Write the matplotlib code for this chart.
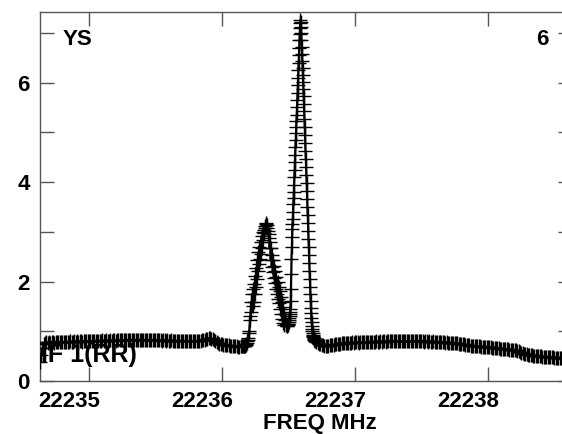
import numpy as np
import matplotlib
matplotlib.use("Agg")
import matplotlib.pyplot as plt
from matplotlib.ticker import MultipleLocator, FixedLocator
from matplotlib.transforms import ScaledTranslation

plt.rcParams['font.family'] = ['Liberation Sans', 'DejaVu Sans']

# ---- data ----
# baseline before the lines: start 22234.63 MHz, 0.01 MHz channels
seg_a_start, seg_a_step = 22234.63, 0.01
seg_a = [0.38, 0.52, 0.66, 0.75, 0.77, 0.78, 0.77, 0.78, 0.77, 0.78,
         0.78, 0.77, 0.79, 0.78, 0.78, 0.79, 0.78, 0.79, 0.78, 0.79,
         0.79, 0.78, 0.79, 0.80, 0.79, 0.79, 0.80, 0.79, 0.80, 0.79,
         0.80, 0.80, 0.79, 0.80, 0.80, 0.81, 0.80, 0.80, 0.81, 0.80,
         0.81, 0.80, 0.81, 0.81, 0.80, 0.81, 0.81, 0.82, 0.81, 0.81,
         0.82, 0.81, 0.81, 0.82, 0.81, 0.82, 0.82, 0.81, 0.82, 0.82,
         0.82, 0.83, 0.82, 0.82, 0.83, 0.82, 0.83, 0.82, 0.83, 0.83,
         0.82, 0.83, 0.83, 0.82, 0.83, 0.83, 0.82, 0.83, 0.82, 0.83,
         0.83, 0.82, 0.83, 0.82, 0.82, 0.83, 0.82, 0.82, 0.83, 0.82,
         0.82, 0.82, 0.81, 0.82, 0.82, 0.81, 0.82, 0.81, 0.81, 0.82,
         0.81, 0.81, 0.80, 0.81, 0.81, 0.80, 0.81, 0.80, 0.80, 0.81,
         0.80, 0.80, 0.80, 0.81, 0.80, 0.80, 0.80, 0.81, 0.80, 0.81,
         0.81, 0.81, 0.82, 0.82, 0.83, 0.84, 0.85, 0.86, 0.86, 0.85,
         0.84, 0.82, 0.80, 0.78, 0.76, 0.75, 0.74, 0.74, 0.73, 0.73,
         0.72, 0.72, 0.72, 0.71, 0.71, 0.70, 0.70, 0.70, 0.70, 0.69,
         0.69, 0.70]

# weaker line: start 22236.150 MHz, 0.004 MHz channels (noisy flanks)
seg_b_start, seg_b_step = 22236.150, 0.004
seg_b = [0.70, 0.70, 0.70, 0.70, 0.71, 0.71, 0.72, 0.73, 0.75, 0.77,
         0.80, 0.83, 0.86, 1.00, 0.97, 1.30, 1.23, 1.59, 1.38, 1.75,
         1.50, 1.84, 1.59, 1.96, 1.74, 2.12, 1.90, 2.28, 2.06, 2.44,
         2.22, 2.59, 2.35, 2.70, 2.45, 2.79, 2.55, 2.92, 2.68, 3.00,
         2.83, 3.03, 2.98, 3.07, 3.12, 3.16, 3.17, 3.14, 3.08, 3.02,
         2.96, 2.88, 2.68, 2.79, 2.44, 2.67, 2.30, 2.54, 2.19, 2.43,
         2.08, 2.32, 1.97, 2.21, 1.85, 2.10, 1.74, 1.99, 1.64, 1.90,
         1.56, 1.81, 1.45, 1.69, 1.34, 1.59, 1.24, 1.49, 1.16, 1.35,
         1.13, 1.23, 1.14, 1.12, 1.10, 1.10, 1.12, 1.14]

# strong narrow line: start 22236.500 MHz, 0.002 MHz channels
seg_c_start, seg_c_step = 22236.500, 0.002
seg_c = [1.15, 1.18, 1.22, 1.26, 1.30, 1.34, 1.38, 1.45, 1.60, 1.85,
         2.15, 2.45, 2.70, 2.90, 3.05, 3.15, 3.25, 3.40, 3.55, 3.68,
         3.80, 3.95, 4.10, 4.25, 4.40, 4.55, 4.70, 4.85, 4.98, 5.10,
         5.22, 5.35, 5.50, 5.65, 5.80, 5.95, 6.10, 6.25, 6.40, 6.55,
         6.70, 6.85, 6.98, 7.10, 7.20, 7.26, 7.22, 7.12, 7.00, 6.86,
         6.72, 6.58, 6.44, 6.30, 6.16, 6.02, 5.88, 5.74, 5.58, 5.42,
         5.26, 5.10, 4.94, 4.78, 4.62, 4.46, 4.30, 4.14, 3.98, 3.82,
         3.66, 3.50, 3.34, 3.18, 3.02, 2.86, 2.70, 2.54, 2.38, 2.22,
         2.06, 1.90, 1.75, 1.60, 1.47, 1.36, 1.26, 1.18, 1.11, 1.05,
         1.00, 0.96, 0.93, 0.90, 0.88, 0.86, 0.84, 0.83, 0.82, 0.81,
         0.80]

# baseline after the lines: start 22236.71 MHz, 0.01 MHz channels
seg_d_start, seg_d_step = 22236.71, 0.01
seg_d = [0.79, 0.77, 0.75, 0.74, 0.73, 0.72, 0.71, 0.70, 0.70, 0.71,
         0.72, 0.72, 0.73, 0.73, 0.74, 0.74, 0.75, 0.75, 0.75, 0.76,
         0.76, 0.76, 0.77, 0.76, 0.77, 0.77, 0.77, 0.78, 0.77, 0.78,
         0.78, 0.78, 0.77, 0.78, 0.78, 0.79, 0.78, 0.78, 0.79, 0.78,
         0.79, 0.79, 0.78, 0.79, 0.79, 0.80, 0.79, 0.79, 0.80, 0.79,
         0.80, 0.80, 0.79, 0.80, 0.80, 0.81, 0.80, 0.80, 0.81, 0.80,
         0.81, 0.80, 0.80, 0.81, 0.80, 0.80, 0.81, 0.80, 0.80, 0.81,
         0.80, 0.80, 0.81, 0.80, 0.80, 0.80, 0.81, 0.80, 0.80, 0.80,
         0.80, 0.79, 0.80, 0.80, 0.79, 0.80, 0.79, 0.79, 0.80, 0.79,
         0.79, 0.79, 0.78, 0.79, 0.78, 0.78, 0.78, 0.77, 0.78, 0.77,
         0.77, 0.77, 0.77, 0.77, 0.76, 0.76, 0.76, 0.75, 0.75, 0.75,
         0.74, 0.74, 0.73, 0.73, 0.72, 0.72, 0.71, 0.71, 0.71, 0.70,
         0.70, 0.70, 0.70, 0.70, 0.69, 0.69, 0.69, 0.68, 0.68, 0.68,
         0.68, 0.68, 0.67, 0.67, 0.67, 0.66, 0.66, 0.66, 0.65, 0.65,
         0.65, 0.65, 0.64, 0.64, 0.64, 0.63, 0.63, 0.63, 0.62, 0.62,
         0.62, 0.61, 0.60, 0.58, 0.57, 0.56, 0.55, 0.54, 0.54, 0.53,
         0.53, 0.52, 0.52, 0.51, 0.51, 0.51, 0.50, 0.50, 0.50, 0.50,
         0.49, 0.49, 0.49, 0.49, 0.48, 0.48, 0.48, 0.48, 0.48, 0.47,
         0.47, 0.47, 0.47, 0.47, 0.47, 0.46, 0.46, 0.46, 0.46, 0.46]

x_ticks = [22235, 22236, 22237, 22238]
x_tick_labels = ["22235", "22236", "22237", "22238"]
y_ticks = [0, 2, 4, 6]
y_tick_labels = ["0", "2", "4", "6"]
source_label = "YS"
panel_label = "6"
if_label = "IF 1(RR)"
x_label = "FREQ MHz"

# channel frequencies of each segment
def channels(start, step, vals):
    return start + step * np.arange(len(vals))

freq = np.concatenate([channels(seg_a_start, seg_a_step, seg_a),
                       channels(seg_b_start, seg_b_step, seg_b),
                       channels(seg_c_start, seg_c_step, seg_c),
                       channels(seg_d_start, seg_d_step, seg_d)])
amp = np.concatenate([seg_a, seg_b, seg_c, seg_d])

# ---- figure ----
W, H = 562, 434
fig = plt.figure(figsize=(W / 100, H / 100), dpi=100)
ax_left, ax_right, ax_top, ax_bottom = 39.5, 572, 12, 381
ax = fig.add_axes([ax_left / W, 1 - ax_bottom / H,
                   (ax_right - ax_left) / W, (ax_bottom - ax_top) / H])

ax.plot(freq, amp, color='black', lw=1.5, marker='+', markersize=9.5,
        markeredgewidth=1.0, zorder=3)

ax.set_xlim(22234.628, 22238.632)
ax.set_ylim(0, 7.42)

spine_col = '#555555'
for s in ax.spines.values():
    s.set_color(spine_col)
    s.set_linewidth(1.0)

ax.xaxis.set_major_locator(FixedLocator(x_ticks))
ax.set_xticklabels(x_tick_labels)
ax.yaxis.set_major_locator(FixedLocator(y_ticks))
ax.set_yticklabels(y_tick_labels)
ax.yaxis.set_minor_locator(MultipleLocator(1))
ax.xaxis.set_minor_locator(FixedLocator([]))

ax.tick_params(axis='both', which='both', direction='in', length=10,
               width=1.0, color=spine_col, top=True, right=True)
ax.tick_params(axis='both', which='major', labelsize=16, pad=7)
for lab in ax.get_yticklabels():
    lab.set_fontweight('bold')
# x tick labels sit a little left of their ticks in the original
shift = ScaledTranslation(-20 / 100, 0, fig.dpi_scale_trans)
for lab in ax.get_xticklabels():
    lab.set_fontweight('bold')
    lab.set_transform(lab.get_transform() + shift)

ax.set_xlabel(x_label, fontsize=16, fontweight='bold')
ax.xaxis.set_label_coords((320 - ax_left) / (ax_right - ax_left), -0.088)

ax.text(0.044, 0.954, source_label, transform=ax.transAxes, fontsize=16,
        fontweight='bold', ha='left', va='top', zorder=4)
ax.text(0.955, 0.954, panel_label, transform=ax.transAxes, fontsize=16,
        fontweight='bold', ha='right', va='top', zorder=4)
ax.text(0.003, 0.052, if_label, transform=ax.transAxes, fontsize=18,
        fontweight='bold', ha='left', va='baseline', zorder=1)

fig.savefig('out.png', dpi=100)
